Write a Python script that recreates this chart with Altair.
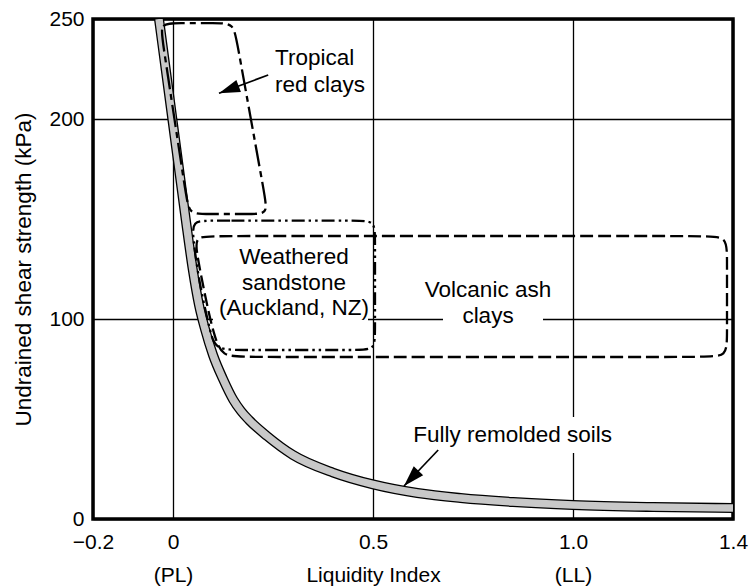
import json
import altair as alt
import pandas as pd

# ---------------- data ----------------
# Fully remolded soils band (centre line)
curve_li = [-0.035, -0.018, 0.0, 0.016, 0.032, 0.05, 0.065, 0.08, 0.1, 0.125, 0.151, 0.17,
            0.19, 0.235, 0.3, 0.4, 0.5, 0.611, 0.719, 0.85, 1.0, 1.2, 1.4]
curve_su = [250, 224.5, 197.5, 173.5, 149.5, 124, 107, 95, 82, 70, 59.5, 54,
            49.5, 41.5, 32, 23.2, 17.3, 13, 10.5, 8.5, 7, 6, 5.5]

# Region outlines (points along each rounded outline, in order)
tropical_li = [-0.026, -0.0325, 0.0125, 0.1065, 0.1515, 0.1595, 0.2295, 0.2375, 0.1925, 0.085, 0.04, 0.033]
tropical_su = [239.0, 247.9, 247.9, 247.9, 247.9, 239.0, 161.4, 152.5, 152.5, 152.5, 152.5, 161.4]

sandstone_li = [0.0475, 0.0925, 0.46, 0.505, 0.505, 0.505, 0.505, 0.46, 0.1675, 0.105, 0.0925, 0.075, 0.061, 0.051]
sandstone_su = [149.2, 149.2, 149.2, 149.2, 140.2, 93.5, 84.5, 84.5, 84.5, 84.5, 94.5, 109.5, 124.5, 139.5]

volcanic_li = [0.055, 0.1, 1.33, 1.385, 1.385, 1.385, 1.385, 1.33, 0.18, 0.1225, 0.1025, 0.085, 0.07, 0.06]
volcanic_su = [141.5, 141.5, 141.5, 141.5, 130.5, 92, 81, 81, 81, 81, 92, 107, 122, 132.5]

# Labels
left_labels = ["Tropical", "red clays"]
left_label_li = [0.255, 0.255]
left_label_su = [227, 213.6]

center_labels = ["Weathered", "sandstone", "(Auckland, NZ)", "Volcanic ash", "clays", "Fully remolded soils"]
center_label_li = [0.3025, 0.3025, 0.3025, 0.7875, 0.7875, 0.849]
center_label_su = [127.5, 114.3, 102, 111, 97.8, 38.7]

# White boxes behind labels (break the grid lines)
mask_li = [0.1, 0.675, 0.96]
mask_li2 = [0.4875, 0.925, 1.04]
mask_su = [97, 96, 33]
mask_su2 = [103, 104, 51]

# Arrows: tail -> tip
arrow_tail_li = [0.238, 0.663]
arrow_tail_su = [222, 34.5]
arrow_tip_li = [0.115, 0.5775]
arrow_tip_su = [212.85, 16.5]
arrow_angle = [249.6, 223.6]

# Axes
x_tick_values = [-0.2, 0, 0.5, 1.0, 1.4]
x_tick_text = ["\u22120.2", "0", "0.5", "1.0", "1.4"]
x_tick_note = ["", "(PL)", "Liquidity Index", "(LL)", ""]
y_tick_values = [0, 100, 200, 250]
y_title = "Undrained shear strength (kPa)"

FONT = "Liberation Sans"
FS = 22.5
TICK_FS = 21

# ---------------- build ----------------
parts = []
for v, t, n in zip(x_tick_values, x_tick_text, x_tick_note):
    lines = [t] + ([n] if n else [])
    parts.append(f"abs(datum.value - ({v})) < 1e-6 ? {json.dumps(lines, ensure_ascii=False)} : ")
label_expr = "".join(parts) + "''"

xs = alt.Scale(domain=[-0.2, 1.4], nice=False, zero=False)
ys = alt.Scale(domain=[0, 250], nice=False, zero=False)

x_axis = alt.Axis(values=x_tick_values, labelExpr=label_expr, title=None, grid=True,
                  labelFontSize=TICK_FS, labelPadding=12.5, labelLineHeight=33,
                  labelFlush=False, labelOverlap=False)
y_axis = alt.Axis(values=y_tick_values, title=y_title, grid=True, labelFontSize=TICK_FS,
                  labelPadding=9, titleFontSize=FS, titleFontWeight="normal", titlePadding=13)


def X(f):
    return alt.X(f"{f}:Q", scale=xs, axis=x_axis)


def Y(f):
    return alt.Y(f"{f}:Q", scale=ys, axis=y_axis)


curve_df = pd.DataFrame({"li": curve_li, "su": curve_su})


def outline(xl, yl):
    return pd.DataFrame({"li": xl, "su": yl, "i": list(range(len(xl)))})


mask_df = pd.DataFrame({"li": mask_li, "li2": mask_li2, "su": mask_su, "su2": mask_su2})
arrow_df = pd.DataFrame({"li": arrow_tail_li, "su": arrow_tail_su,
                         "li2": arrow_tip_li, "su2": arrow_tip_su, "ang": arrow_angle})
left_df = pd.DataFrame({"li": left_label_li, "su": left_label_su, "t": left_labels})
center_df = pd.DataFrame({"li": center_label_li, "su": center_label_su, "t": center_labels})

masks = alt.Chart(mask_df).mark_rect(color="white").encode(
    x=X("li"), x2="li2", y=Y("su"), y2="su2")

curve_outer = alt.Chart(curve_df).mark_line(color="black", strokeWidth=10, clip=True,
                                            interpolate="monotone").encode(x=X("li"), y=Y("su"))
curve_inner = alt.Chart(curve_df).mark_line(color="#c8c8c8", strokeWidth=7.4, clip=True,
                                            interpolate="monotone").encode(x=X("li"), y=Y("su"))


def shape(xl, yl, dash):
    return alt.Chart(outline(xl, yl)).mark_line(
        color="black", strokeWidth=2.3, interpolate="basis-closed", strokeDash=dash
    ).encode(x=X("li"), y=Y("su"), order=alt.Order("i:Q"))


tropical = shape(tropical_li, tropical_su, [22, 5, 6, 5])
sandstone = shape(sandstone_li, sandstone_su, [13, 4, 2.5, 4, 2.5, 4])
volcanic = shape(volcanic_li, volcanic_su, [13, 5])

arrow_lines = alt.Chart(arrow_df).mark_rule(color="black", strokeWidth=1.7).encode(
    x=X("li"), y=Y("su"), x2="li2", y2="su2")
arrow_heads = alt.Chart(arrow_df).mark_point(
    shape="M0,0L0.62,2L-0.62,2Z", filled=True, color="black", opacity=1, size=440, strokeWidth=0
).encode(x=X("li2"), y=Y("su2"), angle=alt.Angle("ang:Q", scale=None))

left_text = alt.Chart(left_df).mark_text(align="left", baseline="alphabetic", fontSize=FS,
                                         font=FONT, color="black").encode(
    x=X("li"), y=Y("su"), text="t:N")
center_text = alt.Chart(center_df).mark_text(align="center", baseline="alphabetic", fontSize=FS,
                                             font=FONT, color="black").encode(
    x=X("li"), y=Y("su"), text="t:N")

chart = alt.layer(
    masks, curve_outer, curve_inner, tropical, sandstone, volcanic,
    arrow_lines, arrow_heads, left_text, center_text
).properties(
    width=640, height=500,
    autosize=alt.AutoSizeParams(type="none"),
    padding={"left": 93, "top": 19, "right": 18, "bottom": 69},
    background="white",
).configure_axis(
    labelFont=FONT, titleFont=FONT, labelColor="black", titleColor="black",
    gridColor="black", gridWidth=1.3, gridOpacity=1, domain=False, ticks=False,
).configure_view(stroke="black", strokeWidth=3.5)

chart.save("out.html", embed_options={"renderer": "svg", "actions": False})
